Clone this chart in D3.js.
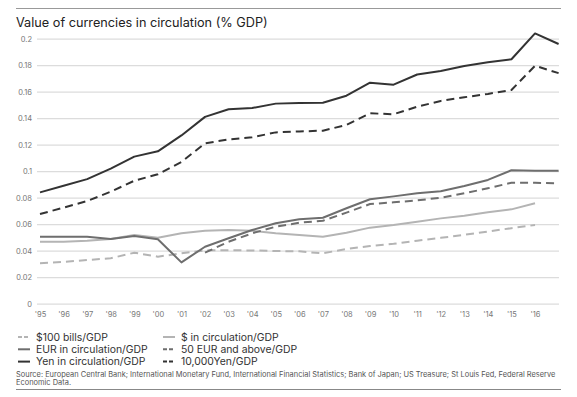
<!DOCTYPE html>
<html><head><meta charset="utf-8">
<script src="https://cdn.jsdelivr.net/npm/d3@7"></script>
<style>body{margin:0;background:#fff;font-family:"Inter","Roboto",sans-serif;}</style>
</head><body><svg id="c" width="577" height="397"></svg>
<script>
const years = d3.range(1995, 2018);
const tickLabels = ["'95","'96","'97","'98","'99","'00","'01","'02","'03","'04","'05","'06","'07","'08","'09","'10","'11","'12","'13","'14","'15","'16"];
const yTicks = [0,0.02,0.04,0.06,0.08,0.1,0.12,0.14,0.16,0.18,0.2];
const usd100 = [0.0305,0.0315,0.033,0.0343,0.0385,0.0355,0.038,0.0403,0.0403,0.0402,0.0398,0.0395,0.038,0.0413,0.0435,0.0452,0.0475,0.0497,0.052,0.0545,0.057,0.0594,null];
const usdCirc = [0.0468,0.0468,0.0475,0.0488,0.0518,0.0498,0.0531,0.0551,0.0556,0.055,0.0531,0.0518,0.0506,0.0536,0.0574,0.0594,0.0619,0.0644,0.0664,0.069,0.0712,0.0758,null];
const eurCirc = [0.0506,0.0506,0.0506,0.0488,0.0511,0.0486,0.0312,0.043,0.0494,0.0556,0.0607,0.0637,0.0649,0.072,0.0788,0.081,0.0833,0.0848,0.0888,0.0934,0.1007,0.1004,0.1004];
const eur50 = [null,null,null,null,null,null,null,0.0385,0.0468,0.0531,0.0581,0.0611,0.0626,0.0687,0.0752,0.0765,0.078,0.080,0.0833,0.0871,0.0913,0.0912,0.0909];
const yenCirc = [0.084,0.089,0.094,0.102,0.111,0.115,0.127,0.141,0.1467,0.1477,0.151,0.1515,0.1517,0.157,0.1668,0.1653,0.173,0.1756,0.1794,0.1822,0.1845,0.204,0.196];
const yen10k = [0.0677,0.0725,0.0775,0.0845,0.0928,0.0977,0.107,0.121,0.124,0.1256,0.1293,0.130,0.1306,0.1349,0.1437,0.143,0.1487,0.153,0.1558,0.1583,0.1613,0.1796,0.174];
const seriesNames = ["$100 bills/GDP","$ in circulation/GDP","EUR in circulation/GDP","50 EUR and above/GDP","Yen in circulation/GDP","10,000Yen/GDP"];

const series = [
  {name:seriesNames[0], values:usd100, color:"#b4b4b4", dash:"8,5"},
  {name:seriesNames[1], values:usdCirc, color:"#b4b4b4", dash:null},
  {name:seriesNames[2], values:eurCirc, color:"#6e6e6e", dash:null},
  {name:seriesNames[3], values:eur50, color:"#6e6e6e", dash:"8,5"},
  {name:seriesNames[4], values:yenCirc, color:"#333333", dash:null},
  {name:seriesNames[5], values:yen10k, color:"#333333", dash:"8,5"}
];

const svg = d3.select("#c");
const x = d3.scaleLinear().domain([1995,2017]).range([40,558.6]);
const y = d3.scaleLinear().domain([0,0.2]).range([303.7,38.7]);

svg.append("line").attr("x1",16).attr("x2",561).attr("y1",8.5).attr("y2",8.5).attr("stroke","#999").attr("stroke-width",1);
svg.append("line").attr("x1",16).attr("x2",561).attr("y1",389.5).attr("y2",389.5).attr("stroke","#888").attr("stroke-width",1);

svg.append("text").attr("x",16).attr("y",27).attr("font-size",12.7).attr("fill","#222").text("Value of currencies in circulation (% GDP)");

const yAxis = d3.axisLeft(y).tickValues(yTicks).tickSize(-(559-37)).tickPadding(5)
  .tickFormat(d => d===0 ? "0" : String(+d.toFixed(2)));
const gy = svg.append("g").attr("transform","translate(37,0)").call(yAxis);
gy.select(".domain").remove();
gy.selectAll(".tick line").attr("stroke","#dcdcdc").attr("stroke-width",1.2);
gy.selectAll(".tick text").attr("font-size",7.5).attr("fill","#777").attr("font-family","Inter, Roboto, sans-serif");

const xAxis = d3.axisBottom(x).tickValues(d3.range(1995,2017)).tickSize(0).tickPadding(6)
  .tickFormat((d,i) => tickLabels[i]);
const gx = svg.append("g").attr("transform","translate(0,306)").call(xAxis);
gx.select(".domain").remove();
gx.selectAll(".tick text").attr("font-size",7.5).attr("fill","#777").attr("font-family","Inter, Roboto, sans-serif");

const line = d3.line().defined(d => d[1] !== null).x(d => x(d[0])).y(d => y(d[1]));
series.forEach(s => {
  svg.append("path").datum(years.map((yr,i)=>[yr,s.values[i]]))
    .attr("d",line).attr("fill","none").attr("stroke",s.color).attr("stroke-width",2)
    .attr("stroke-dasharray",s.dash).attr("stroke-linejoin","round");
});

const legendPos = [[0,0],[1,0],[0,1],[1,1],[0,2],[1,2]];
series.forEach((s,i) => {
  const [c,r] = legendPos[i];
  const lx = c===0 ? 18 : 163;
  const ly = 337 + r*12.3;
  svg.append("line").attr("x1",lx).attr("x2",lx+12).attr("y1",ly).attr("y2",ly)
    .attr("stroke",s.color).attr("stroke-width",2).attr("stroke-dasharray",s.dash?"4,2":null);
  svg.append("text").attr("x",lx+18).attr("y",ly+3.5).attr("font-size",10.4).attr("fill","#333").text(s.name);
});

svg.append("text").attr("x",16).attr("y",377).attr("font-size",7.45).attr("fill","#555").text("Source: European Central Bank; International Monetary Fund, International Financial Statistics; Bank of Japan; US Treasure; St Louis Fed, Federal Reserve");
svg.append("text").attr("x",16).attr("y",385).attr("font-size",7.45).attr("fill","#555").text("Economic Data.");
</script></body></html>
